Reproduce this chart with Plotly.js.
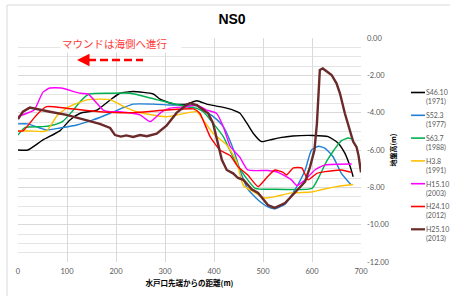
<!DOCTYPE html>
<html><head><meta charset="utf-8">
<script src="https://cdn.plot.ly/plotly-3.0.1.min.js"></script>
<style>html,body{margin:0;padding:0;background:#fff}#chart{width:450px;height:296px}</style>
</head><body><div id="chart"></div>
<script>
const seriesNames = ["S46.10<br>(1971)","S52.3<br>(1977)","S63.7<br>(1988)","H3.8<br>(1991)","H15.10<br>(2003)","H24.10<br>(2012)","H25.10<br>(2013)"];
const seriesColors = ["#000000","#1f7fd4","#00b050","#ffc000","#ff00ff","#ff0000","#6b2a2a"];

const s4610X = [0,20,51,86,106,127,161,188,208,235,276,290,317,344,365,385,412,439,453,467,480,497,514,535,561,602,633,653,667,678,684];
const s4610Y = [-6.0,-6.0,-5.46,-4.96,-4.39,-4.03,-3.86,-3.32,-2.96,-2.87,-3.0,-3.27,-3.54,-3.54,-3.36,-3.54,-3.68,-3.86,-4.03,-4.56,-5.1,-5.55,-5.46,-5.34,-5.25,-5.22,-5.28,-5.62,-6.17,-6.9,-7.43];

const s523X = [0,20,45,58,86,120,153,188,215,235,276,310,365,378,398,419,440,456,469,490,510,524,545,565,586,599,613,626,643,660,680];
const s523Y = [-4.6,-4.6,-4.82,-4.93,-4.82,-4.66,-4.39,-4.03,-3.73,-3.54,-3.54,-3.59,-3.64,-3.86,-4.2,-4.75,-6.0,-7.3,-8.1,-8.68,-9.05,-9.15,-8.9,-8.14,-7.07,-6.0,-5.8,-5.9,-6.36,-7.25,-7.87];

const s637X = [0,14,51,72,92,110,130,145,188,229,283,344,365,378,398,419,443,463,484,520,600,615,630,645,660,674,680];
const s637Y = [-5.2,-4.8,-4.75,-4.66,-4.45,-3.95,-3.32,-3.0,-2.96,-2.96,-3.3,-3.68,-3.77,-3.95,-4.56,-5.28,-6.6,-7.4,-8.05,-8.1,-8.05,-7.4,-6.6,-6.0,-5.5,-5.36,-5.4];

const h38X = [0,24,58,80,104,143,188,212,242,269,303,365,378,398,426,446,460,480,504,524,558,599,623,650,684];
const h38Y = [-4.98,-4.98,-4.98,-4.15,-3.68,-3.3,-3.3,-3.62,-3.95,-4.1,-4.22,-3.95,-4.39,-5.1,-5.73,-6.6,-7.9,-8.23,-8.57,-8.5,-8.3,-8.25,-8.1,-7.96,-7.85];

const h1510X = [0,18,33,51,65,88,127,143,174,188,208,249,270,292,310,344,365,385,405,419,433,453,469,510,531,558,569,586,606,627,681];
const h1510Y = [-4.21,-4.03,-3.86,-2.9,-2.68,-2.68,-2.96,-3.0,-3.86,-3.95,-3.95,-4.12,-4.48,-3.98,-3.76,-3.68,-3.59,-3.86,-4.03,-4.75,-5.8,-6.4,-7.07,-7.1,-7.2,-7.6,-7.9,-7.6,-7.07,-6.8,-6.75];

const h2410X = [0,10,38,58,99,167,235,303,358,371,392,412,433,449,469,490,507,524,541,548,562,579,592,610,627,660,681];
const h2410Y = [-4.98,-4.98,-4.12,-3.68,-3.76,-3.95,-4.0,-3.86,-3.8,-4.03,-5.28,-6.0,-6.3,-6.9,-7.34,-7.96,-7.5,-7.07,-7.2,-7.34,-6.96,-6.96,-7.6,-7.25,-7.16,-7.07,-7.2];

const h2510X = [0,10,24,45,65,99,140,167,188,198,210,221,235,249,263,275,283,303,324,344,351,365,378,388,398,408,416,426,439,449,460,477,490,510,524,545,565,586,596,605,610,613,616,622,628,633,640,650,657,667,671,678,684,691,695,700];
const h2510Y = [-4.35,-3.95,-3.73,-3.86,-3.95,-4.12,-4.39,-4.6,-4.82,-5.2,-5.28,-5.22,-5.3,-5.2,-5.26,-5.18,-5.12,-4.7,-4.0,-3.59,-3.5,-3.6,-3.86,-4.03,-4.56,-5.73,-6.53,-7.07,-7.25,-7.5,-7.6,-8.1,-8.3,-8.95,-9.1,-8.84,-8.3,-7.7,-6.9,-6.0,-4.6,-3.0,-1.71,-1.63,-1.75,-1.8,-1.98,-2.43,-2.96,-4.03,-4.4,-5.1,-5.55,-5.85,-6.3,-7.2];

const xTickVals = [0,100,200,300,400,500,600,700];
const yTickVals = [0,-2,-4,-6,-8,-10,-12];
const yTickText = ["0.00","-2.00","-4.00","-6.00","-8.00","-10.00","-12.00"];

const xs = [s4610X,s523X,s637X,h38X,h1510X,h2410X,h2510X];
const ys = [s4610Y,s523Y,s637Y,h38Y,h1510Y,h2410Y,h2510Y];

const lineWidths = seriesNames.map((_, i) => i === 6 ? 2.4 : 1.4);

const traces = xs.map((x,i)=>({
  x: x, y: ys[i], name: seriesNames[i], type: 'scatter', mode: 'lines', showlegend: false,
  line: {color: seriesColors[i], width: lineWidths[i], shape: i===6 ? 'linear' : 'spline', smoothing: 0.5}
}));

const numFont = "Lato, 'Liberation Sans', sans-serif";
const jpFont = "'Noto Sans CJK JP', sans-serif";

// plot-area pixel geometry helpers (layout only)
const L = 18, R = 361, T = 38, B = 262;
const px2x = p => (p - L) / (R - L);
const px2y = p => (B - p) / (B - T);

// legend drawn beside the plot (Excel-style short line samples)
const legendShapes = [], legendAnns = [];
seriesNames.forEach((name, i) => {
  const ly = 92.5 + i * 22.8;
  legendShapes.push({type: 'line', xref: 'paper', yref: 'paper', x0: px2x(411), x1: px2x(425), y0: px2y(ly), y1: px2y(ly),
                     line: {color: seriesColors[i], width: i === 6 ? 2.2 : 1.6}});
  legendAnns.push({text: name, xref: 'paper', yref: 'paper', x: px2x(425.5), y: px2y(ly - 5.2), xanchor: 'left', yanchor: 'top',
                   align: 'left', showarrow: false, borderpad: 0, font: {family: numFont, size: 7, color: '#595959'}});
});

const layout = {
  width: 450, height: 296,
  margin: {l: L, r: 450 - R, t: T, b: 296 - B, autoexpand: false},
  paper_bgcolor: '#ffffff', plot_bgcolor: '#ffffff',
  showlegend: false,
  title: {text: 'NS0', font: {family: "'Liberation Sans', sans-serif", size: 14, color: '#000', weight: 'bold'},
          x: 232/450, xref: 'container', xanchor: 'center', y: 1 - 19/296, yref: 'container', yanchor: 'middle'},
  xaxis: {range: [0,700], tickvals: xTickVals, showgrid: true, gridcolor: '#d9d9d9', gridwidth: 1,
          zeroline: false, showline: false, ticks: '', ticklabelstandoff: 3,
          tickfont: {family: numFont, size: 7.5, color: '#595959'},
          title: {text: '水戸口先端からの距離(m)', font: {family: jpFont, size: 7.5, color: '#000', weight: 'bold'}, standoff: 6}},
  yaxis: {range: [-12,0], side: 'right', tickvals: yTickVals, ticktext: yTickText, showgrid: true, gridcolor: '#d9d9d9',
          minor: {dtick: 0.5, showgrid: true, gridcolor: '#e4e4e4', ticks: ''},
          zeroline: false, showline: false, ticks: '', ticklabelstandoff: 5,
          tickfont: {family: numFont, size: 7.5, color: '#595959'},
          title: {text: '地盤高(m)', font: {family: jpFont, size: 7, color: '#000', weight: 'bold'}, standoff: 2}},
  shapes: [
    {type: 'rect', xref: 'paper', yref: 'paper', x0: px2x(7), x1: px2x(470), y0: px2y(310), y1: px2y(5), line: {color: '#d9d9d9', width: 1}},
    {type: 'line', xref: 'paper', yref: 'paper', x0: px2x(88), x1: px2x(143), y0: px2y(60), y1: px2y(60), line: {color: '#ff0000', width: 2.5, dash: '8px,4px'}}
  ].concat(legendShapes),
  annotations: [
    {text: 'マウンドは海側へ進行', xref: 'paper', yref: 'paper', x: px2x(121), y: px2y(43.5), xanchor: 'center', yanchor: 'middle',
     showarrow: false, bgcolor: '#ffffff', width: 118, align: 'left', borderpad: 1,
     font: {family: jpFont, size: 10.5, color: '#ff3b3b'}},
    {text: '', xref: 'paper', yref: 'paper', x: px2x(77), y: px2y(60), ax: 14, ay: 0, showarrow: true,
     arrowhead: 2, arrowsize: 1, arrowwidth: 2.5, arrowcolor: '#ff0000'}
  ].concat(legendAnns)
};

Plotly.newPlot('chart', traces, layout, {displayModeBar: false, staticPlot: true});
</script></body></html>
